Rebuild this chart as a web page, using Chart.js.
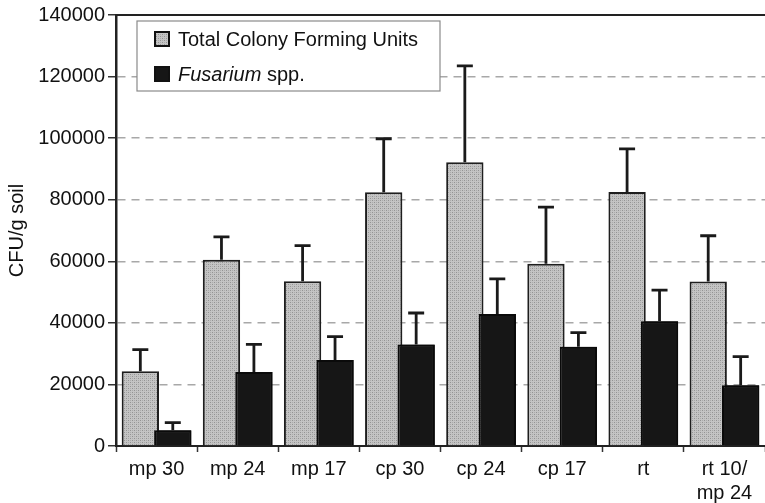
<!DOCTYPE html>
<html>
<head>
<meta charset="utf-8">
<script src="https://cdn.jsdelivr.net/npm/chart.js@4.4.1/dist/chart.umd.min.js"></script>
<style>
  html, body { margin: 0; padding: 0; background: #fff; }
  #wrap { width: 765px; height: 503px; }
</style>
</head>
<body>
<div id="wrap"><canvas id="cfuChart" width="765" height="503"></canvas></div>
<script>
const categories = ["mp 30", "mp 24", "mp 17", "cp 30", "cp 24", "cp 17", "rt", ["rt 10/", "mp 24"]];
const totalCfu = [24300, 60500, 53500, 82400, 92200, 59200, 82500, 53400];
const totalErr = [7000, 7400, 11600, 17400, 31300, 18400, 14000, 14900];
const fusarium = [5100, 24000, 27900, 33000, 42900, 32200, 40500, 19700];
const fusariumErr = [2500, 9000, 7600, 10200, 11400, 4600, 10100, 9300];
const yTicks = [0, 20000, 40000, 60000, 80000, 100000, 120000, 140000];

const FONT = "'Liberation Sans', Arial, sans-serif";

// stippled grey fill like the print
function makeStipple() {
  const c = document.createElement("canvas");
  c.width = 4; c.height = 4;
  const g = c.getContext("2d");
  g.fillStyle = "#c4c4c4";
  g.fillRect(0, 0, 4, 4);
  g.fillStyle = "#939393";
  g.fillRect(0, 0, 1, 1);
  g.fillRect(2, 2, 1, 1);
  g.fillStyle = "#ababab";
  g.fillRect(2, 0, 1, 1);
  g.fillRect(0, 2, 1, 1);
  return g.createPattern(c, "repeat");
}
const stipple = makeStipple();

/* ===== FUSARIUM ON TOP + ERROR BARS (upper only) ===== */
const errorBars = {
  id: "errorBars",
  afterDatasetsDraw(chart) {
    const ctx = chart.ctx;
    const yScale = chart.scales.y;
    // the black bars overlap the grey ones, so paint them again on top
    chart.getDatasetMeta(1).data.forEach(bar => bar.draw(ctx, chart.chartArea));

    chart.data.datasets.forEach((ds, i) => {
      const meta = chart.getDatasetMeta(i);
      meta.data.forEach((bar, j) => {
        const top = yScale.getPixelForValue(ds.data[j] + ds.errors[j]);
        ctx.save();
        ctx.strokeStyle = "#1a1a1a";
        ctx.lineWidth = 2.8;
        ctx.beginPath();
        ctx.moveTo(bar.x, bar.y);
        ctx.lineTo(bar.x, top);
        ctx.moveTo(bar.x - 8, top);
        ctx.lineTo(bar.x + 8, top);
        ctx.stroke();
        ctx.restore();
      });
    });
  }
};

/* ===== FRAME TOP + LEGEND BOX ===== */
const frameAndLegend = {
  id: "frameAndLegend",
  afterDraw(chart) {
    const ctx = chart.ctx;
    const a = chart.chartArea;
    ctx.save();
    ctx.strokeStyle = "#222";
    ctx.lineWidth = 2;
    ctx.beginPath();
    ctx.moveTo(a.left, a.top);
    ctx.lineTo(a.right, a.top);
    ctx.stroke();

    // legend
    const bx = 137, by = 21, bw = 303, bh = 70;
    ctx.fillStyle = "#fff";
    ctx.fillRect(bx, by, bw, bh);
    ctx.strokeStyle = "#8a8a8a";
    ctx.lineWidth = 1.2;
    ctx.strokeRect(bx, by, bw, bh);

    const items = chart.data.datasets;
    items.forEach((ds, i) => {
      const cy = by + 18 + i * 35;
      ctx.fillStyle = ds.backgroundColor;
      ctx.fillRect(155, cy - 7, 14, 14);
      ctx.strokeStyle = "#111";
      ctx.lineWidth = 2;
      ctx.strokeRect(155, cy - 7, 14, 14);
      ctx.fillStyle = "#111";
      ctx.textBaseline = "middle";
      ctx.textAlign = "left";
      if (i === 0) {
        ctx.font = "20px " + FONT;
        ctx.fillText(ds.label, 178, cy + 1);
      } else {
        ctx.font = "italic 20px " + FONT;
        ctx.fillText("Fusarium", 178, cy + 1);
        const w = ctx.measureText("Fusarium ").width;
        ctx.font = "20px " + FONT;
        ctx.fillText("spp.", 178 + w, cy + 1);
      }
    });
    ctx.restore();
  }
};

const cfuCtx = document.getElementById("cfuChart");

new Chart(cfuCtx, {
  type: "bar",
  data: {
    labels: categories,
    datasets: [{
      label: "Total Colony Forming Units",
      data: totalCfu,
      errors: totalErr,
      backgroundColor: stipple,
      borderColor: "#1e1e1e",
      borderWidth: 2,
      categoryPercentage: 0.8,
      barPercentage: 1.15
    }, {
      label: "Fusarium spp.",
      data: fusarium,
      errors: fusariumErr,
      backgroundColor: "#161616",
      borderColor: "#0a0a0a",
      borderWidth: 2,
      categoryPercentage: 0.8,
      barPercentage: 1.15
    }]
  },
  options: {
    responsive: false,
    animation: false,
    layout: { padding: { top: 15, right: 0, bottom: 0, left: 0 } },
    plugins: {
      legend: { display: false },
      tooltip: { enabled: false }
    },
    scales: {
      x: {
        offset: true,
        grid: {
          offset: true,
          drawOnChartArea: false,
          drawTicks: true,
          tickLength: 6,
          tickColor: "#333",
          tickWidth: 1.5
        },
        border: { display: true, color: "#222", width: 2 },
        ticks: {
          color: "#111",
          font: { family: FONT, size: 20 },
          padding: 5,
          maxRotation: 0,
          autoSkip: false
        },
        afterFit(scale) { scale.height = 57; }
      },
      y: {
        min: 0,
        max: 140000,
        afterBuildTicks(scale) { scale.ticks = yTicks.map(v => ({ value: v })); },
        grid: {
          color: ctx => (ctx.tick && (ctx.tick.value === 0 || ctx.tick.value === 140000)) ? "rgba(0,0,0,0)" : "#a8a8a8",
          lineWidth: 1.5,
          drawTicks: true,
          tickLength: 8,
          tickColor: "#333",
          tickWidth: 1.5,
          tickBorderDash: []
        },
        border: { display: true, color: "#222", width: 2.5, dash: [8, 6] },
        ticks: {
          color: "#111",
          font: { family: FONT, size: 20 },
          padding: 3,
          callback: v => String(v)
        },
        title: {
          display: true,
          text: "CFU/g soil",
          color: "#111",
          font: { family: FONT, size: 20 },
          padding: { top: 5, bottom: 0 }
        },
        afterFit(scale) { scale.width = 116; }
      }
    }
  },
  plugins: [errorBars, frameAndLegend]
});
</script>
</body>
</html>
